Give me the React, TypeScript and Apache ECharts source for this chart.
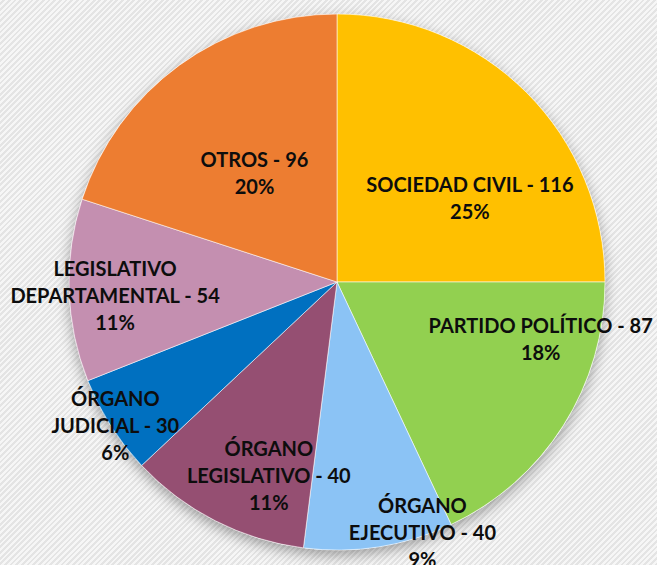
import React, { useEffect, useRef } from "react";
import * as echarts from "echarts";

const categories = [
  "SOCIEDAD CIVIL",
  "PARTIDO POLÍTICO",
  "ÓRGANO EJECUTIVO",
  "ÓRGANO LEGISLATIVO",
  "ÓRGANO JUDICIAL",
  "LEGISLATIVO DEPARTAMENTAL",
  "OTROS",
];
const counts = [116, 87, 40, 40, 30, 54, 96];
const percents = [25, 18, 9, 11, 6, 11, 20];
const breakName = [false, false, true, true, true, true, false];

const colors = ["#FFC000", "#92D050", "#8BC3F5", "#954F72", "#0070C0", "#C48FB0", "#ED7D31"];
const labelOffsets: [number, number][] = [
  [36, 12],
  [88, -17],
  [64, 115],
  [-6, 71],
  [-106, 70],
  [-85, 9],
  [-2, 1],
];

export default function App() {
  const ref = useRef<HTMLDivElement>(null);
  useEffect(() => {
    if (!ref.current) return;
    const chart = echarts.init(ref.current, null, { renderer: "svg" });
    const data = categories.map((name, i) => ({
      name,
      value: percents[i],
      itemStyle: { color: colors[i] },
    }));
    chart.setOption({
      animation: false,
      backgroundColor: "transparent",
      series: [
        {
          type: "pie",
          silent: true,
          center: [337, 282],
          radius: 268,
          startAngle: 90,
          z: 1,
          label: { show: false },
          labelLine: { show: false },
          itemStyle: {
            color: "#ffffff",
            shadowBlur: 14,
            shadowColor: "rgba(0,0,0,0.35)",
            shadowOffsetX: 0,
            shadowOffsetY: 5,
          },
          data: [{ name: "sombra", value: 1 }],
          tooltip: { show: false },
        },
        {
          type: "pie",
          center: [337, 282],
          radius: 268,
          startAngle: 90,
          clockwise: true,
          z: 2,
          itemStyle: {
            borderColor: "rgba(255,255,255,0.55)",
            borderWidth: 1,
          },
          label: {
            show: true,
            position: "inside",
            color: "#0d0d0d",
            fontFamily: "Lato",
            fontWeight: "bold",
            fontSize: 20,
            lineHeight: 27,
            align: "center",
            formatter: (p: any) => {
              const i = p.dataIndex;
              const nm = breakName[i] ? categories[i].replace(" ", "\n") : categories[i];
              return `${nm} - ${counts[i]}\n${percents[i]}%`;
            },
          },
          labelLine: { show: false },
          labelLayout: (p: any) => ({
            dx: labelOffsets[p.dataIndex][0],
            dy: labelOffsets[p.dataIndex][1],
          }),
          data,
        },
      ],
    });
    return () => chart.dispose();
  }, []);
  return (
    <div
      style={{
        position: "fixed",
        left: 0,
        top: 0,
        width: 657,
        height: 565,
        background:
          "repeating-linear-gradient(135deg, #f6f6f6 0px, #f6f6f6 2px, #e4e4e4 2px, #e4e4e4 4px)",
      }}
    >
      <div ref={ref} style={{ width: 657, height: 565 }} />
    </div>
  );
}
